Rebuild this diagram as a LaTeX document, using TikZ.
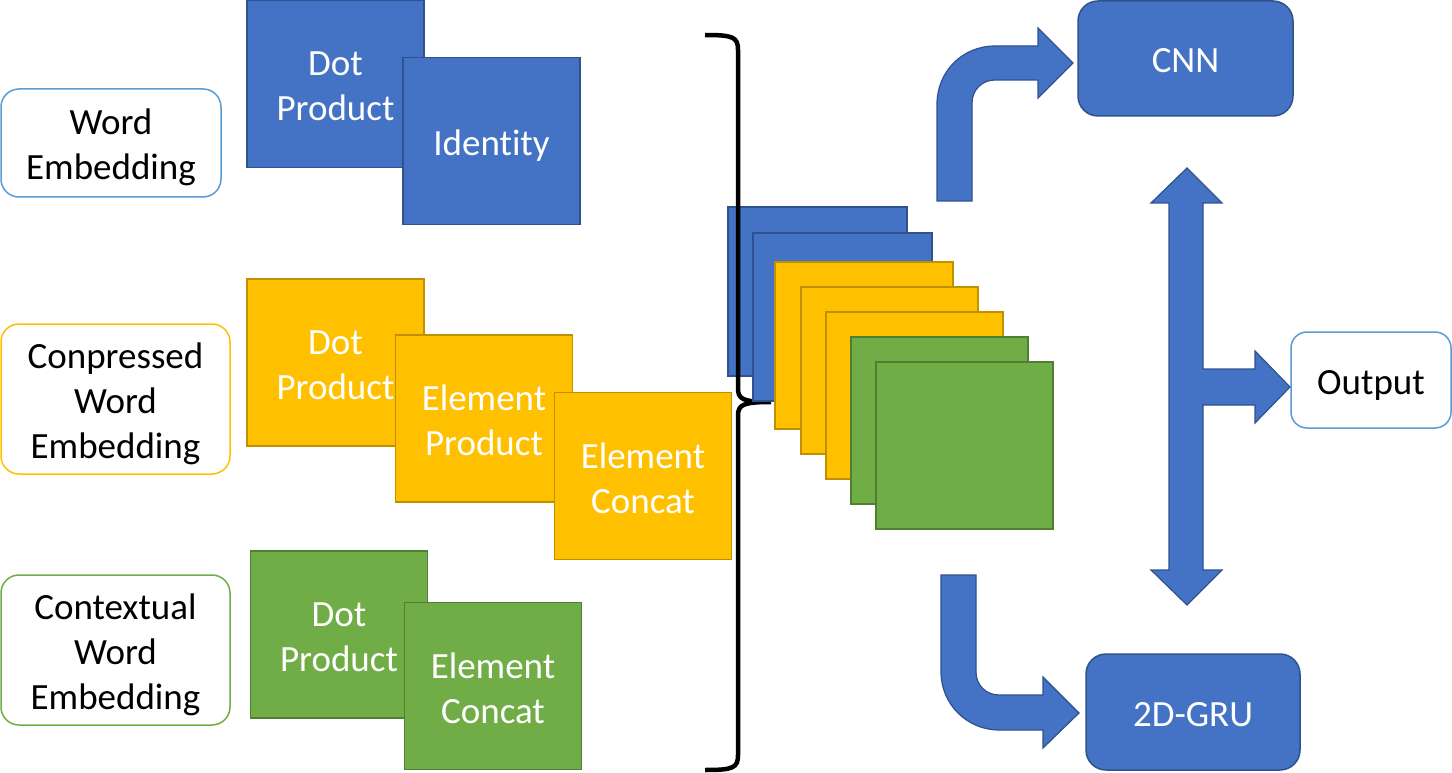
\documentclass[tikz,border=0pt]{standalone}
\usepackage{fontspec}
\setmainfont{Carlito}[Ligatures=NoCommon]
\definecolor{bfill}{HTML}{4472C4}
\definecolor{bdraw}{HTML}{2F528F}
\definecolor{yfill}{HTML}{FFC000}
\definecolor{ydraw}{HTML}{BF9000}
\definecolor{gfill}{HTML}{70AD47}
\definecolor{gdraw}{HTML}{507E32}
\definecolor{lblue}{HTML}{5B9BD5}
\newcommand\mylines[1]{\raisebox{-5.5pt}[\height][\depth]{\begin{tabular}{@{}c@{}}#1\end{tabular}}}
\tikzset{
  sq/.style={rectangle, minimum width=177pt, minimum height=167pt, line width=1.5pt,
    text=white, inner sep=0pt, font=\fontsize{37}{45}\selectfont},
  bsq/.style={sq, fill=bfill, draw=bdraw},
  ysq/.style={sq, fill=yfill, draw=ydraw},
  gsq/.style={sq, fill=gfill, draw=gdraw},
  inbox/.style={rectangle, rounded corners=18pt, fill=white, line width=1.5pt,
    inner sep=0pt, font=\fontsize{37}{45}\selectfont},
  blk/.style={rectangle, rounded corners=20pt, fill=bfill, draw=bdraw, line width=1.5pt,
    text=white, inner sep=0pt, font=\fontsize{37}{45}\selectfont},
  fatarrow/.style={fill=bfill, draw=bdraw, line width=1.2pt, line join=miter},
}
\begin{document}
\begin{tikzpicture}[x=1pt,y=-1pt]
\useasboundingbox (0,0) rectangle (1452,773);
% left input boxes
\node[inbox, draw=lblue, minimum width=220pt, minimum height=108pt] (we) at (111,143) {\mylines{Word\\Embedding}};
\node[inbox, draw=yfill, minimum width=229pt, minimum height=150pt] (cwe) at (115.5,399) {\mylines{Conpressed\\Word\\Embedding}};
\node[inbox, draw=gfill, minimum width=229pt, minimum height=150pt] (xwe) at (115.5,650) {\mylines{Contextual\\Word\\Embedding}};
% blue group
\node[bsq] (bdot) at (335.5,84) {\mylines{Dot\\Product}};
\node[bsq] (bid) at (491.5,141) {\mylines{Identity}};
% yellow group
\node[ysq] (ydot) at (335.5,362.5) {\mylines{Dot\\Product}};
\node[ysq] (yep) at (484,418.5) {\mylines{Element\\Product}};
\node[ysq] (yec) at (643,476) {\mylines{Element\\Concat}};
% green group
\node[gsq] (gdot) at (339,634.5) {\mylines{Dot\\Product}};
\node[gsq] (gec) at (493,686) {\mylines{Element\\Concat}};
% stacked feature maps
\node[bsq, minimum width=179pt, minimum height=169pt] (s1) at (817.5,291.5) {};
% brace
\draw[line width=4.5pt, line cap=butt]
  (705,35) .. controls (733,35) and (738,37) .. (738,50) -- (738,388)
  .. controls (738,399) and (742,402) .. (771,402)
  (771,402) .. controls (742,402) and (738,405) .. (738,416) -- (738,755)
  .. controls (738,768) and (733,770) .. (705,770);
\node[bsq, minimum width=179pt, minimum height=168pt] (s2) at (842.5,317) {};
\node[ysq, minimum width=178pt, minimum height=167pt] (s3) at (864,345.5) {};
\node[ysq, minimum width=177pt, minimum height=167pt] (s4) at (889.5,370.5) {};
\node[ysq, minimum width=177pt, minimum height=167pt] (s5) at (914.5,395.5) {};
\node[gsq, minimum width=177pt, minimum height=167pt] (s6) at (939.5,420.5) {};
\node[gsq, minimum width=177pt, minimum height=167pt] (s7) at (964.5,445.5) {};
% right blocks
\node[blk, minimum width=215pt, minimum height=115pt] (cnn) at (1185.5,58.5) {\mylines{CNN}};
\node[blk, minimum width=214pt, minimum height=116pt] (gru) at (1193,712) {\mylines{2D-GRU}};
\node[inbox, draw=lblue, minimum width=160pt, minimum height=96pt, rounded corners=16pt] (out) at (1371,380) {\mylines{Output}};
% arrow tip points just before the target boxes
\coordinate (cnntip) at (1073,63);
\coordinate (grutip) at (1079,713);
\coordinate (outtip) at (1290,387);
% bent arrow up to CNN
\draw[fatarrow]
  (937,201) -- (937,104) .. controls (937,72) and (962,46) .. (995,46)
  -- (1038,46) -- (1038,28) -- (cnntip) -- (1038,98) -- (1038,80)
  -- (995,80) .. controls (982,80) and (972,90) .. (972,103) -- (972,201) -- cycle;
% bent arrow down to 2D-GRU
\draw[fatarrow]
  (941,575) -- (941,672) .. controls (941,704) and (967,730) .. (999,730)
  -- (1043,730) -- (1043,748) -- (grutip) -- (1043,677) -- (1043,695)
  -- (999,695) .. controls (986,695) and (976,685) .. (976,672) -- (976,575) -- cycle;
% double arrow with branch to Output
\draw[fatarrow]
  (1187,168) -- (1222,203) -- (1203,203) -- (1203,369) -- (1255,369) -- (1255,351)
  -- (outtip) -- (1255,423) -- (1255,405) -- (1203,405) -- (1203,570) -- (1222,570)
  -- (1187,605) -- (1151,570) -- (1169,570) -- (1169,203) -- (1151,203) -- cycle;
\end{tikzpicture}
\end{document}
